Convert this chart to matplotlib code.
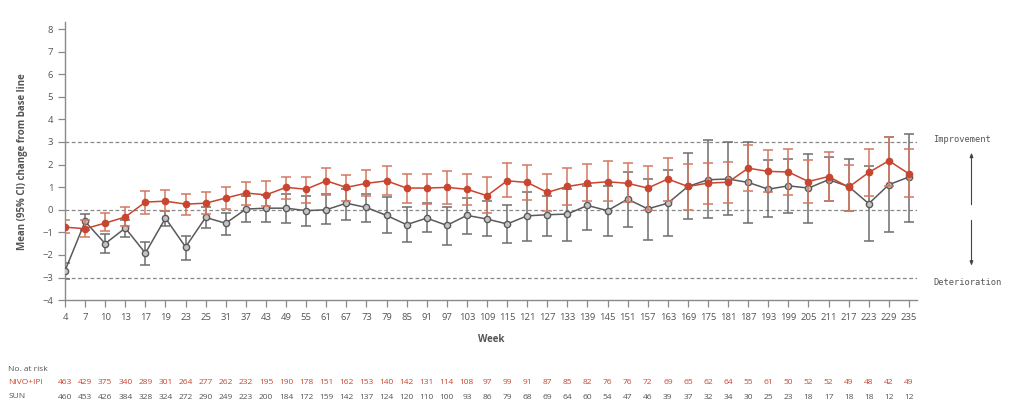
import numpy as np
import matplotlib
matplotlib.use("Agg")
import matplotlib.pyplot as plt

plt.rcParams['font.family'] = ['Open Sans', 'DejaVu Sans']

weeks = [4, 7, 10, 13, 17, 19, 23, 25, 31, 37, 43, 49, 55, 61, 67, 73, 79, 85, 91, 97, 103,
         109, 115, 121, 127, 133, 139, 145, 151, 157, 163, 169, 175, 181, 187, 193, 199, 205,
         211, 217, 223, 229, 235]

# NIVO+IPI: mean and 95% CI
nivo_mean = [-0.77, -0.84, -0.59, -0.32, 0.34, 0.38, 0.25, 0.29, 0.52, 0.74, 0.66, 0.99, 0.91,
             1.28, 0.99, 1.17, 1.28, 0.96, 0.96, 0.99, 0.91, 0.62, 1.28, 1.21, 0.77, 1.03, 1.17,
             1.24, 1.17, 0.96, 1.36, 1.03, 1.18, 1.22, 1.84, 1.70, 1.67, 1.25, 1.47, 1.00, 1.65,
             2.17, 1.59]
nivo_hi = [-0.47, -0.47, -0.15, 0.10, 0.81, 0.86, 0.71, 0.78, 1.02, 1.25, 1.28, 1.47, 1.45,
           1.87, 1.55, 1.74, 1.92, 1.59, 1.59, 1.70, 1.59, 1.43, 2.06, 1.99, 1.59, 1.84, 2.02,
           2.17, 2.06, 1.92, 2.29, 2.04, 2.06, 2.11, 2.85, 2.63, 2.68, 2.21, 2.55, 1.99, 2.70,
           3.24, 2.70]
nivo_lo = [-1.03, -1.22, -0.96, -0.74, -0.18, -0.07, -0.22, -0.19, 0.03, 0.22, 0.15, 0.49, 0.31,
           0.66, 0.40, 0.59, 0.66, 0.29, 0.27, 0.27, 0.22, -0.15, 0.55, 0.44, -0.04, 0.22, 0.37,
           0.37, 0.34, 0.00, 0.40, 0.00, 0.27, 0.32, 0.81, 0.77, 0.66, 0.32, 0.40, -0.04, 0.59,
           1.03, 0.56]

# SUN: mean and 95% CI
sun_mean = [-2.70, -0.52, -1.50, -0.81, -1.92, -0.37, -1.65, -0.34, -0.60, 0.03, 0.07, 0.07,
            -0.04, 0.00, 0.29, 0.10, -0.25, -0.66, -0.37, -0.69, -0.25, -0.41, -0.63, -0.27,
            -0.22, -0.19, 0.19, -0.04, 0.47, 0.04, 0.29, 1.03, 1.33, 1.36, 1.21, 0.91, 1.06,
            0.96, 1.33, 1.03, 0.27, 1.11, 1.45]
sun_hi = [-2.35, -0.19, -1.08, -0.47, -1.43, -0.05, -1.14, 0.10, -0.15, 0.59, 0.66, 0.69, 0.63,
          0.69, 0.93, 0.69, 0.56, 0.10, 0.32, 0.10, 0.52, 0.37, 0.19, 0.78, 0.62, 0.91, 1.03,
          1.03, 1.67, 1.37, 1.77, 2.51, 3.07, 2.99, 2.99, 2.21, 2.24, 2.46, 2.33, 2.24, 1.92,
          3.20, 3.35]
sun_lo = [-3.05, -0.88, -1.92, -1.22, -2.43, -0.72, -2.21, -0.81, -1.11, -0.55, -0.55, -0.59,
          -0.74, -0.63, -0.44, -0.55, -1.03, -1.43, -1.00, -1.58, -1.06, -1.18, -1.47, -1.37,
          -1.15, -1.37, -0.88, -1.14, -0.78, -1.33, -1.18, -0.40, -0.37, -0.25, -0.59, -0.34,
          -0.15, -0.59, 0.37, -0.07, -1.40, -1.00, -0.55]

nivo_risk = [463, 429, 375, 340, 289, 301, 264, 277, 262, 232, 195, 190, 178, 151, 162, 153, 140,
             142, 131, 114, 108, 97, 99, 91, 87, 85, 82, 76, 76, 72, 69, 65, 62, 64, 55, 61, 50,
             52, 52, 49, 48, 42, 49]
sun_risk = [460, 453, 426, 384, 328, 324, 272, 290, 249, 223, 200, 184, 172, 159, 142, 137, 124,
            120, 110, 100, 93, 86, 79, 68, 69, 64, 60, 54, 47, 46, 39, 37, 32, 34, 30, 25, 23,
            18, 17, 18, 18, 12, 12]

red = "#c8452f"
red_err = "#d4785f"
grey = "#5a5a5a"
grey_err = "#6e6e6e"
axis_grey = "#8a8a8a"
text_grey = "#555555"

x = np.arange(len(weeks))

fig = plt.figure(figsize=(10.11, 4.05), dpi=100)
ax = fig.add_axes([0.0643, 0.259, 0.8427, 0.686])

for y in [3, 0, -3]:
    ax.axhline(y, color="#888888", lw=0.9, ls=(0, (3, 2)), zorder=1)

# SUN
sun_mean = np.array(sun_mean)
ax.errorbar(x, sun_mean, yerr=[sun_mean - np.array(sun_lo), np.array(sun_hi) - sun_mean],
            fmt="none", ecolor=grey_err, elinewidth=1.1, capsize=3.5, capthick=1.1, zorder=2)
ax.plot(x, sun_mean, color=grey, lw=1.1, marker="o", ms=4.5, mfc="#c4c4c4", mec=grey,
        mew=1.0, zorder=3)

# NIVO+IPI
nivo_mean = np.array(nivo_mean)
ax.errorbar(x, nivo_mean, yerr=[nivo_mean - np.array(nivo_lo), np.array(nivo_hi) - nivo_mean],
            fmt="none", ecolor=red_err, elinewidth=1.1, capsize=3.5, capthick=1.1, zorder=4)
ax.plot(x, nivo_mean, color=red, lw=1.1, marker="o", ms=4.5, mfc=red, mec=red, zorder=5)

ax.set_xlim(0, 42.4)
ax.set_ylim(-4, 8.3)
ax.set_xticks(x)
ax.set_xticklabels([str(w) for w in weeks])
ax.set_yticks(range(-4, 9))
for s in ["top", "right"]:
    ax.spines[s].set_visible(False)
for s in ["left", "bottom"]:
    ax.spines[s].set_color(axis_grey)
    ax.spines[s].set_linewidth(1.0)
ax.tick_params(axis="both", colors=axis_grey, labelcolor=text_grey, labelsize=6.8,
               length=5, width=0.9, direction="out")
ax.tick_params(axis="x", pad=4)
ax.set_ylabel("Mean (95% CI) change from base line", fontsize=7, fontweight="bold",
              color=text_grey, labelpad=10)
ax.set_xlabel("Week", fontsize=7, fontweight="bold", color=text_grey, labelpad=9)

# right-side annotations
tr = ax.get_yaxis_transform()
ax.text(1.019, 3.1, "Improvement", transform=tr, fontsize=6.3, color=text_grey,
        family="DejaVu Sans Mono", va="center", ha="left", clip_on=False)
ax.text(1.019, -3.2, "Deterioration", transform=tr, fontsize=6.3, color=text_grey,
        family="DejaVu Sans Mono", va="center", ha="left", clip_on=False)
ax.annotate("", xy=(1.064, 2.65), xytext=(1.064, 0.1), xycoords=tr, textcoords=tr,
            arrowprops=dict(arrowstyle="-|>,head_length=0.25,head_width=0.1", color="#444444",
                            lw=0.8))
ax.annotate("", xy=(1.064, -2.6), xytext=(1.064, -0.35), xycoords=tr, textcoords=tr,
            arrowprops=dict(arrowstyle="-|>,head_length=0.25,head_width=0.1", color="#444444",
                            lw=0.8))

# number at risk table
xt = ax.get_xaxis_transform()
fig.text(0.008, 0.088, "No. at risk", fontsize=6, color=text_grey, va="center")
fig.text(0.008, 0.056, "NIVO+IPI", fontsize=6, color=red, va="center")
fig.text(0.008, 0.020, "SUN", fontsize=6, color=text_grey, va="center")
for xi, a, b in zip(x, nivo_risk, sun_risk):
    ax.text(xi, -0.295, str(a), transform=xt, fontsize=6, color=red, ha="center", va="center",
            clip_on=False)
    ax.text(xi, -0.349, str(b), transform=xt, fontsize=6, color=text_grey, ha="center",
            va="center", clip_on=False)

fig.savefig("out.png", dpi=100)
